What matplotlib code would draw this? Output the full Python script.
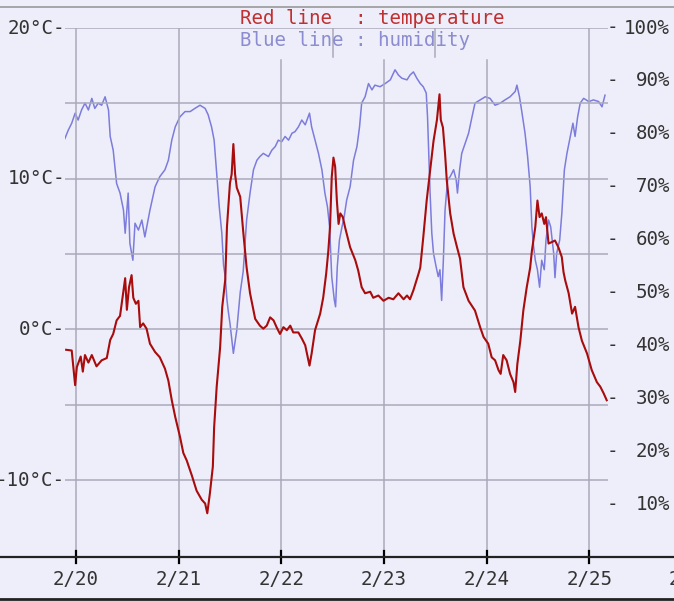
import numpy as np
import matplotlib.pyplot as plt
from matplotlib.lines import Line2D

# hours since 2/20 00:00, temperature in degC
temp_hours = [-2.3, -1.0, -0.2, 0.2, 1.1, 1.6, 2.1, 2.9, 3.7, 4.8, 6.0, 7.2, 8.0, 8.7, 9.5,
              10.3, 11.1, 11.5, 11.9, 12.4, 13.0, 13.4, 14.0, 14.6, 15.0, 15.7, 16.5, 17.3,
              18.5, 19.6, 20.8, 21.6, 22.4, 23.2, 24.3, 25.1, 25.9, 27.1, 28.2, 29.4, 30.2,
              30.7, 31.3, 32.0, 32.3, 32.9, 33.7, 34.2, 34.9, 35.3, 36.0, 36.4, 36.8, 37.2,
              37.6, 38.4, 39.1, 39.9, 40.7, 41.9, 43.0, 43.8, 44.6, 45.4, 46.2, 46.9, 47.7,
              48.5, 49.3, 50.1, 50.8, 52.0, 52.8, 53.6, 54.6, 55.1, 55.9, 57.1, 57.8, 58.5,
              59.0, 59.4, 59.8, 60.2, 60.6, 61.0, 61.4, 61.8, 62.4, 62.9, 64.1, 65.3, 66.0,
              66.8, 67.6, 68.8, 69.5, 70.7, 71.9, 73.1, 74.2, 75.4, 76.6, 77.4, 78.1, 78.9,
              80.1, 80.5, 81.2, 82.0, 82.8, 83.6, 84.4, 85.0, 85.3, 85.8, 86.3, 86.7, 87.5,
              88.3, 89.1, 89.8, 90.6, 91.8, 93.3, 94.5, 95.3, 96.4, 97.2, 98.0, 98.8, 99.3,
              99.9, 100.7, 101.5, 102.3, 102.7, 103.2, 103.9, 104.6, 105.4, 106.2, 106.6,
              107.4, 107.9, 108.4, 108.9, 109.5, 109.9, 110.5, 111.3, 112.0, 112.8, 113.6,
              114.0, 114.4, 115.2, 116.0, 116.7, 117.5, 118.3, 119.5, 120.6, 121.8, 122.6,
              123.4, 124.1]
temperature = [-1.35, -1.4, -3.7, -2.5, -1.8, -2.8, -1.7, -2.2, -1.7, -2.45, -2.05, -1.9, -0.7,
               -0.3, 0.6, 0.9, 2.6, 3.4, 1.3, 2.8, 3.6, 2.1, 1.7, 1.9, 0.15, 0.4, 0.05, -0.95,
               -1.5, -1.85, -2.6, -3.4, -4.7, -5.8, -7.1, -8.2, -8.7, -9.7, -10.7, -11.3,
               -11.55, -12.2, -10.9, -9.1, -6.5, -3.8, -1.2, 1.5, 3.3, 6.8, 9.7, 10.3, 12.3,
               10.3, 9.4, 8.8, 6.5, 4.1, 2.4, 0.7, 0.25, 0.05, 0.25, 0.8, 0.6, 0.15, -0.3,
               0.15, -0.05, 0.25, -0.2, -0.2, -0.6, -1.05, -2.4, -1.6, -0.05, 1.05, 2.1, 3.7,
               5.2, 6.8, 10.1, 11.4, 10.8, 8.55, 7.0, 7.7, 7.45, 6.8, 5.45, 4.6, 3.9, 2.8,
               2.4, 2.5, 2.1, 2.25, 1.9, 2.1, 2.0, 2.4, 2.0, 2.25, 2.0, 2.6, 3.7, 4.1, 6.1,
               8.55, 10.5, 12.5, 13.9, 15.6, 13.9, 13.4, 11.65, 9.9, 7.7, 6.35, 5.45, 4.7,
               2.8, 1.9, 1.25, 0.15, -0.5, -0.95, -1.85, -2.05, -2.7, -2.95, -1.7, -2.05,
               -2.95, -3.5, -4.15, -2.3, -0.75, 1.25, 2.8, 4.1, 5.2, 6.8, 8.55, 7.45, 7.7,
               7.0, 7.45, 5.7, 5.8, 5.9, 5.45, 4.8, 3.8, 3.25, 2.4, 1.05, 1.5, 0.15, -0.75,
               -1.6, -2.7, -3.5, -3.8, -4.25, -4.7]

# hours since 2/20 00:00, relative humidity in %
hum_hours = [-2.6, -1.8, -1.0, -0.2, 0.5, 1.3, 2.1, 2.9, 3.7, 4.4, 5.2, 6.0, 6.8, 7.6, 8.0,
             8.7, 9.5, 10.3, 11.1, 11.5, 12.2, 12.6, 13.3, 13.8, 14.6, 15.4, 16.1, 16.7,
             17.3, 18.5, 19.6, 20.8, 21.6, 22.4, 23.2, 24.3, 25.5, 26.7, 27.8, 29.0, 30.2,
             30.9, 31.7, 32.3, 32.9, 33.5, 34.1, 34.5, 34.9, 35.3, 35.6, 36.0, 36.8, 37.6,
             38.4, 39.1, 39.9, 40.7, 41.5, 42.3, 43.0, 43.8, 45.0, 45.8, 46.6, 47.3, 48.1,
             48.9, 49.7, 50.5, 51.2, 52.0, 52.8, 53.6, 54.6, 55.1, 55.9, 56.7, 57.5, 58.2,
             58.8, 59.3, 59.8, 60.4, 60.7, 61.1, 61.6, 62.2, 62.7, 63.3, 64.1, 64.9, 65.7,
             66.3, 66.8, 67.6, 68.4, 69.2, 69.9, 71.1, 72.3, 73.5, 74.6, 75.4, 76.2, 77.4,
             78.1, 78.9, 79.7, 80.5, 81.2, 81.9, 82.2, 82.4, 82.8, 83.2, 83.6, 84.2, 84.7,
             85.1, 85.5, 85.9, 86.3, 86.9, 87.5, 88.3, 88.9, 89.2, 89.7, 90.2, 91.0, 91.8,
             92.6, 93.3, 94.5, 95.7, 96.8, 98.0, 99.2, 100.3, 101.5, 102.7, 103.1, 103.7,
             104.3, 105.0, 105.6, 106.2, 106.6, 107.0, 107.4, 107.9, 108.4, 108.9, 109.5,
             109.9, 110.5, 111.0, 111.7, 112.0, 112.4, 113.1, 113.6, 114.2, 114.8, 115.6,
             116.2, 116.7, 117.3, 117.9, 118.7, 119.9, 121.0, 122.2, 123.0, 123.7]
humidity = [79.1, 80.7, 82.0, 83.9, 82.6, 84.5, 85.8, 84.5, 86.7, 84.8, 85.8, 85.4, 87.0, 84.5,
            79.5, 76.9, 70.6, 68.8, 65.6, 61.2, 68.8, 59.3, 56.1, 63.1, 61.8, 63.7, 60.5,
            63.1, 65.6, 70.0, 71.9, 73.2, 75.0, 78.8, 81.3, 83.2, 84.2, 84.2, 84.8, 85.4,
            84.8, 83.6, 81.3, 78.8, 72.5, 66.2, 61.2, 55.2, 53.0, 48.6, 46.5, 44.2, 38.5,
            42.9, 50.0, 54.0, 63.7, 68.8, 73.2, 75.0, 75.7, 76.3, 75.7, 76.9, 77.6, 78.8,
            78.5, 79.5, 78.8, 80.1, 80.4, 81.3, 82.6, 81.7, 83.9, 81.3, 78.8, 76.3, 73.2,
            68.8, 66.2, 62.4, 53.0, 48.6, 47.3, 54.9, 59.9, 62.4, 64.3, 67.5, 70.0, 75.0,
            77.6, 81.3, 85.8, 87.0, 89.5, 88.3, 89.2, 88.9, 89.5, 90.2, 92.1, 91.1, 90.5,
            90.2, 91.1, 91.7, 90.5, 89.5, 88.9, 87.7, 83.2, 78.2, 68.8, 61.2, 57.4, 54.9,
            53.0, 54.3, 48.5, 56.1, 65.6, 71.3, 71.9, 73.2, 71.3, 68.8, 73.2, 76.3, 78.2,
            80.1, 83.2, 85.8, 86.4, 87.0, 86.7, 85.4, 85.8, 86.4, 87.0, 88.0, 89.2, 87.0,
            83.9, 80.1, 75.7, 70.0, 62.4, 58.7, 56.1, 54.3, 51.0, 56.1, 54.3, 59.9, 63.7,
            62.4, 57.4, 52.8, 57.4, 59.9, 64.9, 73.2, 76.3, 79.5, 82.0, 79.5, 83.2, 85.8,
            86.7, 86.1, 86.4, 86.1, 85.1, 87.3]

day_hours = [0, 24, 48, 72, 96, 120, 144]
day_labels = ['2/20', '2/21', '2/22', '2/23', '2/24', '2/25', '2/26']
temp_ticks = [20, 10, 0, -10]
hum_ticks = [100, 90, 80, 70, 60, 50, 40, 30, 20, 10]

bg = '#eeeefa'
grid = '#a9a9bb'
font = 'DejaVu Sans Mono'
fs = 13.8

fig = plt.figure(figsize=(6.74, 6.01), dpi=100, facecolor=bg)
ax = fig.add_axes([65 / 674, 1 - 557 / 601, 543 / 674, 529 / 601])
ax.set_facecolor(bg)
ax.set_xlim(-2.57, 124.4)
ax.set_ylim(-15.1, 20)
ax2 = ax.twinx()
ax2.set_ylim(0, 100)

for a in (ax, ax2):
    for s in a.spines.values():
        s.set_visible(False)
    a.set_xticks([])
    a.set_yticks([])

# grid
for t in range(-10, 21, 5):
    ax.axhline(t, color=grid, lw=1.1, zorder=0)
for h in day_hours[:6]:
    top = 0.9395 if h in (48, 72, 96) else 1.0
    ax.axvline(h, ymin=0, ymax=top, color=grid, lw=1.1, zorder=0)
for h in (60, 84):
    ax.axvline(h, ymin=0.945, ymax=1.0, color=grid, lw=1.1, zorder=0)

ax2.plot(hum_hours, humidity, color='#7c7cdc', lw=1.1, zorder=2)
ax.plot(temp_hours, temperature, color='#a80c0c', lw=1.5, zorder=3)
ax.set_zorder(ax2.get_zorder() + 1)
ax.patch.set_visible(False)
ax2.patch.set_visible(True)
ax2.patch.set_facecolor(bg)

# left labels
ytr = ax.get_yaxis_transform()
for t in temp_ticks:
    ax.text(0.0, t, f'{t}°C-', transform=ytr, ha='right', va='center',
            fontsize=fs, family=font, color='#333333', clip_on=False)
ytr2 = ax2.get_yaxis_transform()
for h in hum_ticks:
    ax2.text(1.0074, h, '-', transform=ytr2, ha='center', va='center',
             fontsize=fs, family=font, color='#333333', clip_on=False)
    ax2.text(1.1142, h, f'{h}%', transform=ytr2, ha='right', va='center',
             fontsize=fs, family=font, color='#333333', clip_on=False)

# x axis
xtr = ax.get_xaxis_transform()
for h, lab in zip(day_hours, day_labels):
    ax.text(h, -0.0416, lab, transform=xtr, ha='center', va='center',
            fontsize=fs, family=font, color='#333333', clip_on=False)
    ax.plot([h, h], [-0.012, 0.011], transform=xtr, color='black', lw=1.6, clip_on=False)

fig.add_artist(Line2D([0, 1], [1 - 557 / 601] * 2, color='#222222', lw=1.6))
fig.add_artist(Line2D([0, 1], [1 - 7 / 601] * 2, color='#999999', lw=1.2))
fig.add_artist(Line2D([0, 1], [1 - 599 / 601] * 2, color='#222222', lw=2.0))

# legend text
fig.text(240 / 674, 1 - 19 / 601, 'Red line  : temperature', ha='left', va='center',
         fontsize=fs, family=font, color='#c03030')
fig.text(240 / 674, 1 - 41 / 601, 'Blue line : humidity', ha='left', va='center',
         fontsize=fs, family=font, color='#8c8cd0')

fig.savefig('out.png', dpi=100, facecolor=bg)
